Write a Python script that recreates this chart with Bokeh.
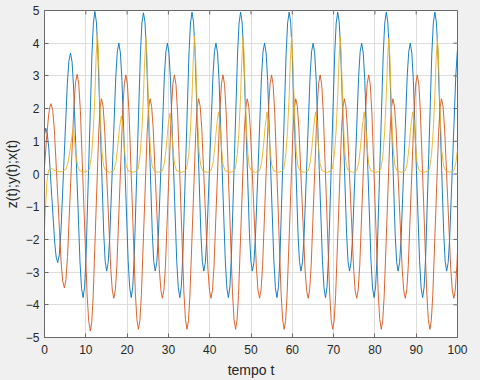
import math
from bokeh.plotting import figure
from bokeh.models import FixedTicker, Range1d, GlobalInlineStyleSheet
from bokeh.embed import file_html
from bokeh.resources import INLINE

# ---- data ----
x_ticks = [0, 10, 20, 30, 40, 50, 60, 70, 80, 90, 100]
y_ticks = [-5, -4, -3, -2, -1, 0, 1, 2, 3, 4, 5]
x_label = "tempo t"
y_label = "z(t);y(t);x(t)"

# first series (blue)
t_z = [0, 0.3, 0.66, 1.03, 1.75, 2.48, 2.84, 3.2, 3.59, 3.98, 4.75, 5.53, 5.91, 6.3, 6.68, 7.06, 7.83, 8.59, 8.97, 9.35, 9.71, 10.06, 10.78, 11.49, 11.84,
       12.2, 12.56, 12.91, 13.63, 14.34, 14.69, 15.05, 15.42, 15.79, 16.53, 17.26, 17.63, 18.0, 18.38, 18.75, 19.5, 20.25, 20.63, 21.0, 21.37, 21.74, 22.48, 23.22, 23.59,
       23.96, 24.32, 24.67, 25.39, 26.1, 26.45, 26.81, 27.18, 27.55, 28.29, 29.02, 29.39, 29.76, 30.14, 30.51, 31.26, 32.01, 32.39, 32.76, 33.13, 33.5, 34.24, 34.98, 35.35,
       35.72, 36.08, 36.43, 37.15, 37.86, 38.21, 38.57, 38.94, 39.31, 40.05, 40.78, 41.15, 41.52, 41.9, 42.27, 43.02, 43.77, 44.15, 44.52, 44.89, 45.26, 46.0, 46.74, 47.11,
       47.48, 47.84, 48.19, 48.91, 49.62, 49.97, 50.33, 50.7, 51.07, 51.81, 52.54, 52.91, 53.28, 53.66, 54.03, 54.78, 55.53, 55.91, 56.28, 56.65, 57.02, 57.76, 58.5, 58.87,
       59.24, 59.6, 59.95, 60.67, 61.38, 61.73, 62.09, 62.46, 62.83, 63.57, 64.3, 64.67, 65.04, 65.42, 65.79, 66.54, 67.29, 67.67, 68.04, 68.41, 68.78, 69.52, 70.26, 70.63,
       71.0, 71.36, 71.71, 72.43, 73.14, 73.49, 73.85, 74.22, 74.59, 75.33, 76.06, 76.43, 76.8, 77.18, 77.55, 78.3, 79.05, 79.43, 79.8, 80.17, 80.54, 81.28, 82.02, 82.39,
       82.76, 83.12, 83.47, 84.19, 84.9, 85.25, 85.61, 85.98, 86.35, 87.09, 87.82, 88.19, 88.56, 88.94, 89.31, 90.06, 90.81, 91.19, 91.56, 91.93, 92.3, 93.04, 93.78, 94.15,
       94.52, 94.88, 95.23, 95.95, 96.66, 97.01, 97.37, 97.74, 98.11, 98.85, 99.58, 99.95, 100.0]
z_vals = [1.2, 1.4, 1.25, 0.8, -0.66, -2.11, -2.55, -2.71, -2.47, -1.77, 0.5, 2.76, 3.46, 3.7, 3.42, 2.6, -0.04, -2.68, -3.5, -3.78, -3.45, -2.5, 0.59, 3.67, 4.62,
          4.97, 4.65, 3.79, 0.99, -1.81, -2.67, -2.97, -2.71, -1.95, 0.52, 2.98, 3.74, 4.0, 3.7, 2.86, 0.11, -2.64, -3.48, -3.78, -3.45, -2.5, 0.59, 3.67, 4.62,
          4.93, 4.65, 3.79, 0.99, -1.81, -2.67, -2.97, -2.71, -1.95, 0.52, 2.98, 3.74, 4.0, 3.7, 2.86, 0.11, -2.64, -3.48, -3.78, -3.45, -2.5, 0.59, 3.67, 4.62,
          4.95, 4.65, 3.79, 0.99, -1.81, -2.67, -2.97, -2.71, -1.95, 0.52, 2.98, 3.74, 4.0, 3.7, 2.86, 0.11, -2.64, -3.48, -3.78, -3.45, -2.5, 0.59, 3.67, 4.62,
          4.95, 4.65, 3.79, 0.99, -1.81, -2.67, -2.97, -2.71, -1.95, 0.52, 2.98, 3.74, 4.0, 3.7, 2.86, 0.11, -2.64, -3.48, -3.78, -3.45, -2.5, 0.59, 3.67, 4.62,
          4.95, 4.65, 3.79, 0.99, -1.81, -2.67, -2.97, -2.71, -1.95, 0.52, 2.98, 3.74, 4.0, 3.7, 2.86, 0.11, -2.64, -3.48, -3.78, -3.45, -2.5, 0.59, 3.67, 4.62,
          4.95, 4.65, 3.79, 0.99, -1.81, -2.67, -2.97, -2.71, -1.95, 0.52, 2.98, 3.74, 4.0, 3.7, 2.86, 0.11, -2.64, -3.48, -3.78, -3.45, -2.5, 0.59, 3.67, 4.62,
          4.95, 4.65, 3.79, 0.99, -1.81, -2.67, -2.97, -2.71, -1.95, 0.52, 2.98, 3.74, 4.0, 3.7, 2.86, 0.11, -2.64, -3.48, -3.78, -3.45, -2.5, 0.59, 3.67, 4.62,
          4.95, 4.65, 3.79, 0.99, -1.81, -2.67, -2.97, -2.71, -1.95, 0.52, 2.98, 3.74, 3.8]

# second series (orange)
t_y = [0, 0.5, 1.0, 1.3, 1.6, 2.0, 2.4, 3.2, 4.0, 4.4, 4.8, 5.19, 5.58, 6.35, 7.13, 7.51, 7.9, 8.3, 8.7, 9.5, 10.3, 10.7, 11.1, 11.44, 11.78, 12.45, 13.13, 13.46,
       13.8, 14.18, 14.55, 15.3, 16.05, 16.43, 16.8, 17.16, 17.53, 18.25, 18.98, 19.34, 19.7, 20.08, 20.46, 21.23, 21.99, 22.37, 22.75, 23.1, 23.45, 24.16, 24.86, 25.21,
       25.56, 25.94, 26.31, 27.06, 27.81, 28.19, 28.56, 28.92, 29.29, 30.01, 30.74, 31.1, 31.46, 31.84, 32.22, 32.99, 33.75, 34.13, 34.51, 34.86, 35.21, 35.92, 36.62, 36.97,
       37.32, 37.7, 38.07, 38.82, 39.57, 39.95, 40.32, 40.68, 41.05, 41.77, 42.5, 42.86, 43.22, 43.6, 43.98, 44.75, 45.51, 45.89, 46.27, 46.62, 46.97, 47.68, 48.38, 48.73,
       49.08, 49.46, 49.83, 50.58, 51.33, 51.71, 52.08, 52.44, 52.81, 53.53, 54.26, 54.62, 54.98, 55.36, 55.74, 56.51, 57.27, 57.65, 58.03, 58.38, 58.73, 59.44, 60.14, 60.49,
       60.84, 61.22, 61.59, 62.34, 63.09, 63.47, 63.84, 64.2, 64.57, 65.29, 66.02, 66.38, 66.74, 67.12, 67.5, 68.27, 69.03, 69.41, 69.79, 70.14, 70.49, 71.2, 71.9, 72.25,
       72.6, 72.98, 73.35, 74.1, 74.85, 75.23, 75.6, 75.96, 76.33, 77.05, 77.78, 78.14, 78.5, 78.88, 79.26, 80.03, 80.79, 81.17, 81.55, 81.9, 82.25, 82.96, 83.66, 84.01,
       84.36, 84.74, 85.11, 85.86, 86.61, 86.99, 87.36, 87.72, 88.09, 88.81, 89.54, 89.9, 90.26, 90.64, 91.02, 91.79, 92.55, 92.93, 93.31, 93.66, 94.01, 94.72, 95.42, 95.77,
       96.12, 96.5, 96.87, 97.62, 98.37, 98.75, 99.12, 99.48, 99.85, 100.0]
y_vals = [0.2, 1.1, 1.8, 2.05, 2.15, 1.94, 1.33, -0.67, -2.66, -3.27, -3.48, -3.23, -2.52, -0.22, 2.09, 2.8, 3.05, 2.75, 1.9, -0.88, -3.65, -4.5, -4.8, -4.53, -3.76, -1.25, 1.26, 2.03,
          2.3, 2.07, 1.41, -0.75, -2.91, -3.57, -3.8, -3.54, -2.8, -0.39, 2.03, 2.77, 3.03, 2.73, 1.89, -0.86, -3.61, -4.45, -4.75, -4.48, -3.72, -1.23, 1.27, 2.03,
          2.3, 2.07, 1.41, -0.75, -2.91, -3.57, -3.8, -3.54, -2.8, -0.39, 2.03, 2.77, 3.03, 2.73, 1.89, -0.86, -3.61, -4.45, -4.75, -4.48, -3.72, -1.23, 1.27, 2.03,
          2.3, 2.07, 1.41, -0.75, -2.91, -3.57, -3.8, -3.54, -2.8, -0.39, 2.03, 2.77, 3.03, 2.73, 1.89, -0.86, -3.61, -4.45, -4.75, -4.48, -3.72, -1.23, 1.27, 2.03,
          2.3, 2.07, 1.41, -0.75, -2.91, -3.57, -3.8, -3.54, -2.8, -0.39, 2.03, 2.77, 3.03, 2.73, 1.89, -0.86, -3.61, -4.45, -4.75, -4.48, -3.72, -1.23, 1.27, 2.03,
          2.3, 2.07, 1.41, -0.75, -2.91, -3.57, -3.8, -3.54, -2.8, -0.39, 2.03, 2.77, 3.03, 2.73, 1.89, -0.86, -3.61, -4.45, -4.75, -4.48, -3.72, -1.23, 1.27, 2.03,
          2.3, 2.07, 1.41, -0.75, -2.91, -3.57, -3.8, -3.54, -2.8, -0.39, 2.03, 2.77, 3.03, 2.73, 1.89, -0.86, -3.61, -4.45, -4.75, -4.48, -3.72, -1.23, 1.27, 2.03,
          2.3, 2.07, 1.41, -0.75, -2.91, -3.57, -3.8, -3.54, -2.8, -0.39, 2.03, 2.77, 3.03, 2.73, 1.89, -0.86, -3.61, -4.45, -4.75, -4.48, -3.72, -1.23, 1.27, 2.03,
          2.3, 2.07, 1.41, -0.75, -2.91, -3.57, -3.8, -3.54, -2.8, -2.36]

# third series (yellow)
t_x = [0, 0.3, 0.6, 1.0, 1.5, 2.2, 3.2, 4.3, 5.2, 5.8, 6.3, 6.9, 7.25, 7.6, 8.0, 8.5, 9.5, 10.3,
       10.9, 11.4, 11.8, 12.2, 12.5, 12.8, 13.05, 13.3, 13.6, 13.9, 14.3, 14.8, 15.8, 16.8, 17.3, 17.7, 18.15, 18.6, 18.95, 19.3, 19.7, 20.2, 21.4, 22.1,
       22.66, 23.16, 23.56, 23.96, 24.26, 24.56, 24.81, 25.06, 25.36, 25.66, 26.06, 26.56, 27.56, 28.56, 29.06, 29.46, 29.91, 30.36, 30.71, 31.06, 31.46, 31.96, 33.16, 33.86,
       34.42, 34.92, 35.32, 35.72, 36.02, 36.32, 36.57, 36.82, 37.12, 37.42, 37.82, 38.32, 39.32, 40.32, 40.82, 41.22, 41.67, 42.12, 42.47, 42.82, 43.22, 43.72, 44.92, 45.62,
       46.18, 46.68, 47.08, 47.48, 47.78, 48.08, 48.33, 48.58, 48.88, 49.18, 49.58, 50.08, 51.08, 52.08, 52.58, 52.98, 53.43, 53.88, 54.23, 54.58, 54.98, 55.48, 56.68, 57.38,
       57.94, 58.44, 58.84, 59.24, 59.54, 59.84, 60.09, 60.34, 60.64, 60.94, 61.34, 61.84, 62.84, 63.84, 64.34, 64.74, 65.19, 65.64, 65.99, 66.34, 66.74, 67.24, 68.44, 69.14,
       69.7, 70.2, 70.6, 71.0, 71.3, 71.6, 71.85, 72.1, 72.4, 72.7, 73.1, 73.6, 74.6, 75.6, 76.1, 76.5, 76.95, 77.4, 77.75, 78.1, 78.5, 79.0, 80.2, 80.9,
       81.46, 81.96, 82.36, 82.76, 83.06, 83.36, 83.61, 83.86, 84.16, 84.46, 84.86, 85.36, 86.36, 87.36, 87.86, 88.26, 88.71, 89.16, 89.51, 89.86, 90.26, 90.76, 91.96, 92.66,
       93.22, 93.72, 94.12, 94.52, 94.82, 95.12, 95.37, 95.62, 95.92, 96.22, 96.62, 97.12, 98.12, 99.12, 99.62, 100.0]
x_vals = [-1.7, -0.9, -0.2, 0.12, 0.18, 0.12, 0.07, 0.07, 0.15, 0.4, 0.85, 1.37, 1.1, 0.6, 0.25, 0.1, 0.06, 0.08,
          0.15, 0.6, 1.3, 2.4, 3.6, 4.32, 3.7, 2.6, 1.5, 0.7, 0.25, 0.1, 0.05, 0.1, 0.35, 0.8, 1.4, 1.78, 1.5, 0.85, 0.3, 0.1, 0.05, 0.08,
          0.15, 0.6, 1.3, 2.4, 3.5, 4.2, 3.6, 2.6, 1.5, 0.7, 0.25, 0.1, 0.05, 0.1, 0.35, 0.8, 1.45, 1.86, 1.55, 0.85, 0.3, 0.1, 0.05, 0.08,
          0.15, 0.6, 1.3, 2.4, 3.5, 4.22, 3.6, 2.6, 1.5, 0.7, 0.25, 0.1, 0.05, 0.1, 0.35, 0.8, 1.45, 1.9, 1.55, 0.85, 0.3, 0.1, 0.05, 0.08,
          0.15, 0.6, 1.3, 2.4, 3.5, 4.2, 3.6, 2.6, 1.5, 0.7, 0.25, 0.1, 0.05, 0.1, 0.35, 0.8, 1.45, 1.9, 1.55, 0.85, 0.3, 0.1, 0.05, 0.08,
          0.15, 0.6, 1.3, 2.4, 3.5, 4.2, 3.6, 2.6, 1.5, 0.7, 0.25, 0.1, 0.05, 0.1, 0.35, 0.8, 1.45, 1.9, 1.55, 0.85, 0.3, 0.1, 0.05, 0.08,
          0.15, 0.6, 1.3, 2.4, 3.5, 4.2, 3.6, 2.6, 1.5, 0.7, 0.25, 0.1, 0.05, 0.1, 0.35, 0.8, 1.45, 1.9, 1.55, 0.85, 0.3, 0.1, 0.05, 0.08,
          0.15, 0.6, 1.3, 2.4, 3.5, 4.15, 3.6, 2.6, 1.5, 0.7, 0.25, 0.1, 0.05, 0.1, 0.35, 0.8, 1.45, 1.9, 1.55, 0.85, 0.3, 0.1, 0.05, 0.08,
          0.15, 0.6, 1.3, 2.4, 3.5, 4.15, 3.6, 2.6, 1.5, 0.7, 0.25, 0.1, 0.05, 0.1, 0.35, 0.75]

# ---- styling ----
FONT = "Liberation Sans"
TXT = "#262626"
BOX = "#6a6a6a"
GRID = "#dedede"

p = figure(width=480, height=380,
           x_range=Range1d(x_ticks[0], x_ticks[-1]), y_range=Range1d(y_ticks[0], y_ticks[-1]),
           output_backend="svg", toolbar_location=None,
           min_border_left=42, min_border_right=23, min_border_top=10, min_border_bottom=42,
           background_fill_color="white", border_fill_color="#f0f0f0")
p.stylesheets = [GlobalInlineStyleSheet(css="html, body { background-color: #f0f0f0; }")]

p.outline_line_color = BOX
p.outline_line_width = 1

for ax, ticks in ((p.xaxis[0], x_ticks), (p.yaxis[0], y_ticks)):
    ax.ticker = FixedTicker(ticks=ticks)
    ax.major_tick_in = 4
    ax.major_tick_out = 0
    ax.minor_tick_line_color = None
    ax.axis_line_color = BOX
    ax.major_tick_line_color = BOX
    ax.major_label_text_font = FONT
    ax.major_label_text_font_size = "12px"
    ax.major_label_text_color = TXT
    ax.axis_label_text_font = FONT
    ax.axis_label_text_font_size = "14px"
    ax.axis_label_text_font_style = "normal"
    ax.axis_label_text_color = TXT

p.xaxis.axis_label = x_label
p.yaxis.axis_label = y_label
p.xaxis.major_label_standoff = 7
p.xaxis.axis_label_standoff = 5
p.yaxis.major_label_standoff = 5
p.yaxis.axis_label_standoff = 3

p.xgrid.ticker = FixedTicker(ticks=x_ticks)
p.ygrid.ticker = FixedTicker(ticks=y_ticks)
p.xgrid.grid_line_color = GRID
p.ygrid.grid_line_color = GRID

# inward tick marks on the right and top edges of the box
p.ray(x=[x_ticks[-1]] * len(y_ticks), y=y_ticks, length=4, length_units="screen",
      angle=math.pi, line_color=BOX, line_width=1)
p.ray(x=x_ticks, y=[y_ticks[-1]] * len(x_ticks), length=4, length_units="screen",
      angle=-math.pi / 2, line_color=BOX, line_width=1)

p.line(t_z, z_vals, line_color="#0072BD", line_width=0.9)
p.line(t_y, y_vals, line_color="#D95319", line_width=0.9)
p.line(t_x, x_vals, line_color="#EDB120", line_width=0.9)

open("out.html", "w").write(file_html(p, INLINE))
